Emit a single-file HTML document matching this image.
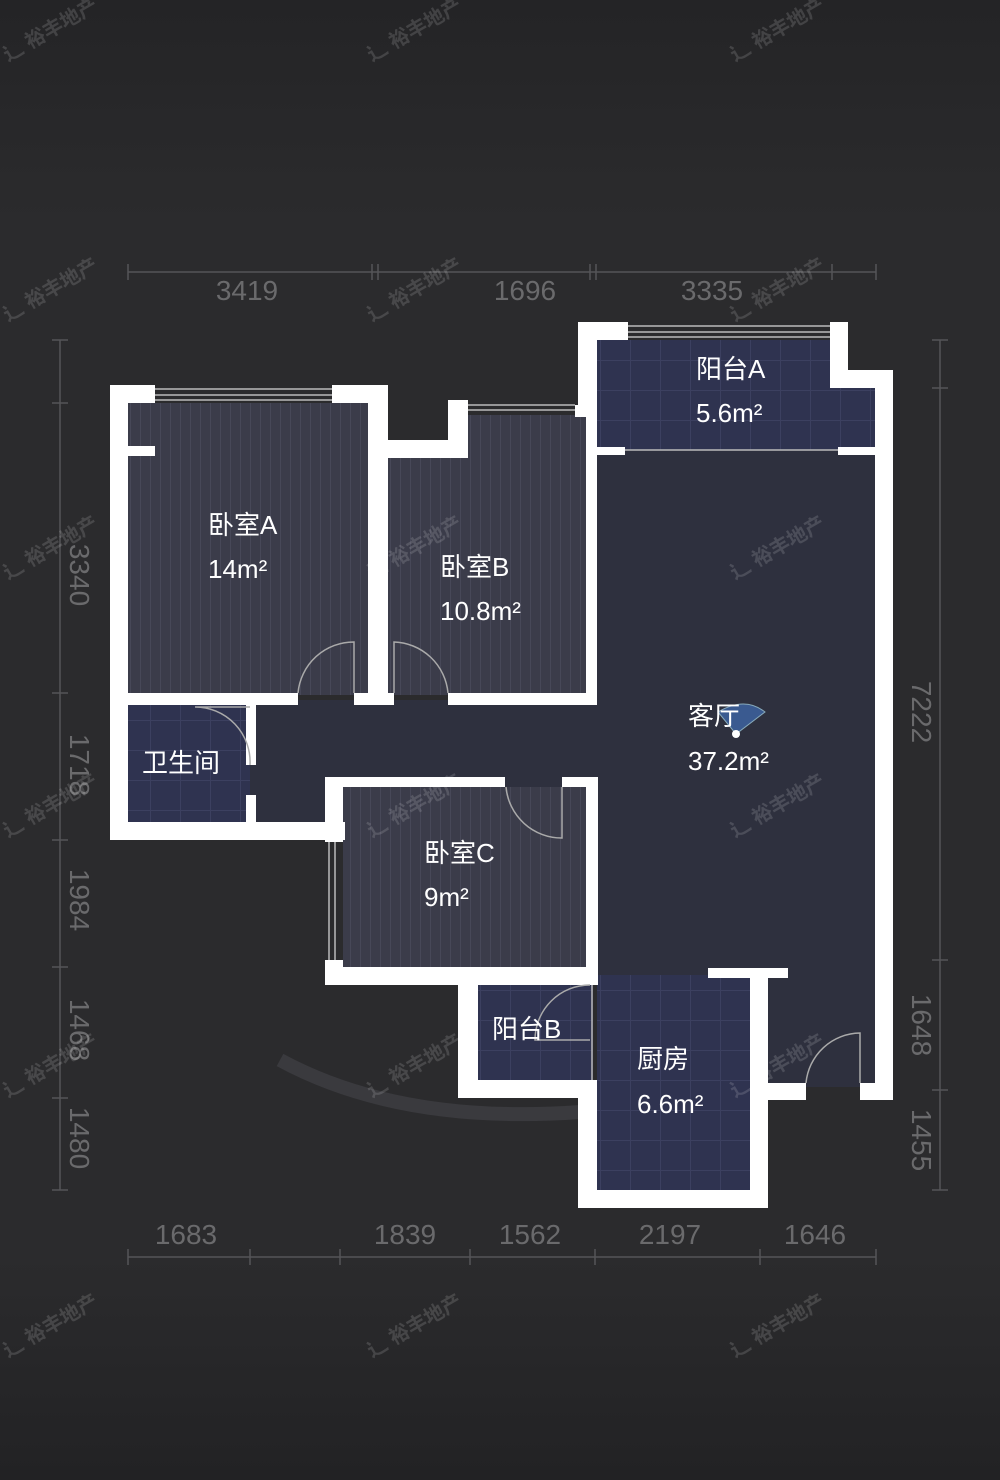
<!DOCTYPE html>
<html><head><meta charset="utf-8"><style>
html,body{margin:0;padding:0;background:#2a2a2c;}
svg{display:block}
text{font-family:"Liberation Sans","Noto Sans CJK SC",sans-serif;}
</style></head><body>
<svg width="1000" height="1480" viewBox="0 0 1000 1480" xmlns="http://www.w3.org/2000/svg">
<defs>
<linearGradient id="bg" x1="0" y1="0" x2="0" y2="1">
<stop offset="0" stop-color="#242426"/><stop offset="0.15" stop-color="#2b2b2d"/><stop offset="0.85" stop-color="#2b2b2d"/><stop offset="1" stop-color="#222224"/>
</linearGradient>
<pattern id="stripe" width="10" height="10" patternUnits="userSpaceOnUse"><rect width="10" height="10" fill="#3b3c4a"/><line x1="0.5" y1="0" x2="0.5" y2="10" stroke="#474858" stroke-width="1"/></pattern>
<pattern id="grid" width="30" height="30" patternUnits="userSpaceOnUse"><rect width="30" height="30" fill="#2f3350"/><path d="M0 .5H30M.5 0V30" stroke="#3c4060" stroke-width="1"/></pattern>
</defs>
<rect width="1000" height="1480" fill="url(#bg)"/>
<path d="M280 1060 Q400 1125 580 1112" stroke="#3a3a3e" stroke-width="14" fill="none"/>
<!-- floors -->
<rect x="597" y="447" width="278" height="640" fill="#2e303e"/>
<rect x="128" y="700" width="470" height="125" fill="#2e303e"/>
<rect x="128" y="403" width="242" height="292" fill="url(#stripe)"/>
<rect x="380" y="456" width="208" height="239" fill="url(#stripe)"/>
<rect x="466" y="415" width="122" height="45" fill="url(#stripe)"/>
<rect x="343" y="787" width="245" height="182" fill="url(#stripe)"/>
<rect x="128" y="705" width="122" height="118" fill="url(#grid)"/>
<rect x="597" y="340" width="235" height="110" fill="url(#grid)"/>
<rect x="597" y="388" width="278" height="62" fill="url(#grid)"/>
<rect x="478" y="985" width="115" height="97" fill="url(#grid)"/>
<rect x="597" y="975" width="153" height="217" fill="url(#grid)"/>
<!-- walls -->
<g fill="#ffffff">
<rect x="110" y="385" width="45" height="18"/><rect x="332" y="385" width="56" height="18"/>
<rect x="110" y="385" width="18" height="455"/>
<rect x="128" y="446" width="27" height="10"/>
<rect x="368" y="385" width="20" height="315"/>
<rect x="368" y="440" width="100" height="18"/><rect x="448" y="400" width="20" height="58"/>
<rect x="575" y="405" width="22" height="12"/>
<rect x="586" y="415" width="11" height="290"/>
<rect x="578" y="322" width="50" height="18"/><rect x="578" y="322" width="19" height="90"/>
<rect x="830" y="322" width="18" height="66"/><rect x="830" y="370" width="63" height="18"/>
<rect x="875" y="370" width="18" height="730"/>
<rect x="597" y="447" width="28" height="8"/><rect x="838" y="447" width="37" height="8"/>
<rect x="110" y="693" width="188" height="12"/><rect x="354" y="693" width="40" height="12"/><rect x="448" y="693" width="149" height="12"/>
<rect x="246" y="705" width="10" height="60"/><rect x="246" y="795" width="10" height="30"/>
<rect x="110" y="822" width="235" height="18"/>
<rect x="325" y="777" width="180" height="10"/><rect x="562" y="777" width="36" height="10"/>
<rect x="586" y="777" width="12" height="198"/>
<rect x="325" y="777" width="18" height="65"/><rect x="325" y="960" width="18" height="25"/>
<rect x="325" y="967" width="273" height="18"/>
<rect x="458" y="967" width="20" height="131"/><rect x="458" y="1080" width="120" height="18"/>
<rect x="578" y="1080" width="19" height="128"/><rect x="578" y="1190" width="190" height="18"/>
<rect x="750" y="968" width="18" height="240"/><rect x="708" y="968" width="80" height="10"/>
<rect x="750" y="1083" width="56" height="17"/><rect x="860" y="1083" width="33" height="17"/>
</g>
<!-- windows -->
<g stroke="#bbbbbb" stroke-width="1.5" fill="none">
<path d="M155 389H332M155 395H332M155 400H332"/>
<path d="M468 405H575M468 410H575"/>
<path d="M628 326H830M628 332H830M628 337H830"/>
<path d="M625 450H838"/>
<path d="M329 842V960M335 842V960"/>
<path d="M592 985V1080"/>
</g>
<!-- doors -->
<g stroke="#aaaaaa" stroke-width="1.5" fill="none">
<path d="M354 693V642A56 56 0 0 0 298 693"/>
<path d="M394 693V642A56 56 0 0 1 448 693"/>
<path d="M250 707H195A55 55 0 0 1 250 765"/>
<path d="M562 787V838A56 56 0 0 1 506 787"/>
<path d="M590 1040H535A55 55 0 0 1 590 985"/>
<path d="M860 1083V1033A55 55 0 0 0 806 1083"/>
</g>
<path d="M736 734L718 712Q745 696 765 712Z" fill="#3a5a90" stroke="#8ab" stroke-width="1"/>
<circle cx="736" cy="734" r="4" fill="#fff"/>
<g fill="#ffffff" font-size="26">
<text x="208" y="534">卧室A</text><text x="208" y="578">14m²</text>
<text x="440" y="576">卧室B</text><text x="440" y="620">10.8m²</text>
<text x="696" y="378">阳台A</text><text x="696" y="422">5.6m²</text>
<text x="688" y="725">客厅</text><text x="688" y="770">37.2m²</text>
<text x="142" y="772">卫生间</text>
<text x="424" y="862">卧室C</text><text x="424" y="906">9m²</text>
<text x="492" y="1038">阳台B</text>
<text x="637" y="1068">厨房</text><text x="637" y="1113">6.6m²</text>
</g>
<g stroke="#555558" stroke-width="1.5" fill="none">
<path d="M128 272H876M128 264V280M372 264V280M378 264V280M590 264V280M596 264V280M832 264V280M876 264V280"/>
<path d="M128 1257H876M128 1249V1265M250 1249V1265M340 1249V1265M470 1249V1265M595 1249V1265M760 1249V1265M876 1249V1265"/>
<path d="M60 340V1190M52 340H68M52 403H68M52 693H68M52 840H68M52 967H68M52 1098H68M52 1190H68"/>
<path d="M940 340V1190M932 340H948M932 388H948M932 960H948M932 1090H948M932 1190H948"/>
</g>
<g fill="#6a6a6c" font-size="28" text-anchor="middle">
<text x="247" y="300">3419</text><text x="525" y="300">1696</text><text x="712" y="300">3335</text>
<text x="186" y="1244">1683</text><text x="405" y="1244">1839</text><text x="530" y="1244">1562</text><text x="670" y="1244">2197</text><text x="815" y="1244">1646</text>
<text transform="translate(70 575) rotate(90)">3340</text>
<text transform="translate(70 765) rotate(90)">1718</text>
<text transform="translate(70 900) rotate(90)">1984</text>
<text transform="translate(70 1030) rotate(90)">1468</text>
<text transform="translate(70 1138) rotate(90)">1480</text>
<text transform="translate(912 712) rotate(90)">7222</text>
<text transform="translate(912 1025) rotate(90)">1648</text>
<text transform="translate(912 1140) rotate(90)">1455</text>
</g>
<g fill="#ffffff" fill-opacity="0.14" font-size="20" font-weight="bold">
<text transform="translate(8 62) rotate(-30)">⻌ 裕丰地产</text>
<text transform="translate(372 62) rotate(-30)">⻌ 裕丰地产</text>
<text transform="translate(735 62) rotate(-30)">⻌ 裕丰地产</text>
<text transform="translate(8 322) rotate(-30)">⻌ 裕丰地产</text>
<text transform="translate(372 322) rotate(-30)">⻌ 裕丰地产</text>
<text transform="translate(735 322) rotate(-30)">⻌ 裕丰地产</text>
<text transform="translate(8 580) rotate(-30)">⻌ 裕丰地产</text>
<text transform="translate(372 580) rotate(-30)">⻌ 裕丰地产</text>
<text transform="translate(735 580) rotate(-30)">⻌ 裕丰地产</text>
<text transform="translate(8 838) rotate(-30)">⻌ 裕丰地产</text>
<text transform="translate(372 838) rotate(-30)">⻌ 裕丰地产</text>
<text transform="translate(735 838) rotate(-30)">⻌ 裕丰地产</text>
<text transform="translate(8 1098) rotate(-30)">⻌ 裕丰地产</text>
<text transform="translate(372 1098) rotate(-30)">⻌ 裕丰地产</text>
<text transform="translate(735 1098) rotate(-30)">⻌ 裕丰地产</text>
<text transform="translate(8 1358) rotate(-30)">⻌ 裕丰地产</text>
<text transform="translate(372 1358) rotate(-30)">⻌ 裕丰地产</text>
<text transform="translate(735 1358) rotate(-30)">⻌ 裕丰地产</text>
</g>
</svg>
</body></html>
